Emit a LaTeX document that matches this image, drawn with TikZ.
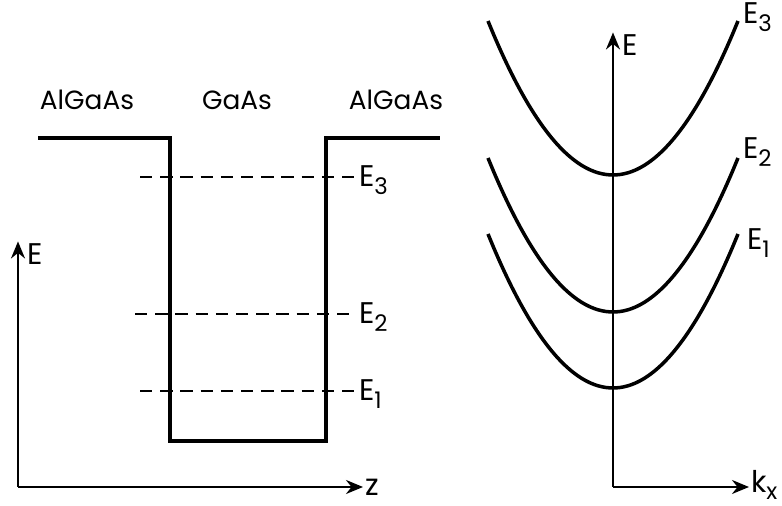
\documentclass[tikz,border=0pt]{standalone}
\usepackage{fontspec}
\setmainfont{Poppins}
\usetikzlibrary{arrows.meta, positioning, calc}

\newcommand{\lvl}[2]{#1\raisebox{-0.45ex}{\fontsize{13}{14}\selectfont #2}}

\begin{document}
\begin{tikzpicture}[
    x=0.02cm, y=-0.02cm,
    font=\fontsize{15}{17}\selectfont,
    well/.style={line width=2pt, line join=miter},
    level/.style={line width=1.4pt, dash pattern=on 7pt off 4.5pt},
    axis/.style={line width=1.3pt, -{Stealth[length=3.4mm, width=2.8mm]}},
    band/.style={line width=2pt},
    lbl/.style={inner sep=1pt, anchor=west, font=\fontsize{17}{19}\selectfont},
  ]
    \useasboundingbox (0,0) rectangle (782,506);

    % quantum well
    \node (lb) at (87,100)  {AlGaAs};
    \node (gw) at (237,100) {GaAs};
    \node (rb) at (396,100) {AlGaAs};
    \coordinate (w1) at (38,138);
    \coordinate (w2) at (170,138);
    \coordinate (w3) at (170,441);
    \coordinate (w4) at (326,441);
    \coordinate (w5) at (326,138);
    \coordinate (w6) at (440,138);
    \draw[well] (w1) -- (w2) -- (w3) -- (w4) -- (w5) -- (w6);

    \node[lbl] (e3) at (357,180) {\lvl{E}{3}};
    \node[lbl] (e2) at (357,317) {\lvl{E}{2}};
    \node[lbl] (e1) at (357,394) {\lvl{E}{1}};
    \coordinate (d3) at (140,177);
    \coordinate (d2) at (135,314);
    \coordinate (d1) at (140,391);
    \draw[level] (d3) -- (d3 -| e3.west);
    \draw[level] (d2) -- (d2 -| e2.west);
    \draw[level] (d1) -- (d1 -| e1.west);

    \coordinate (o1) at (18,487);
    \node[lbl] (ez) at (25,254) {E};
    \node[lbl] (zz) at (363,487) {z};
    \draw[axis] (o1) -- (o1 |- ez.north);
    \draw[axis] (o1) -- (zz.west);

    % subbands
    \coordinate (o2) at (613,487);
    \node[lbl] (ek) at (620,45) {E};
    \node[lbl] (kx) at (749,485) {\lvl{k}{x}};
    \draw[axis] (o2) -- (o2 |- ek.north);
    \draw[axis] (o2) -- (kx.west |- o2);

    \foreach \ymin in {175, 312, 388}
      \draw[band] plot[domain=-125:125, samples=60, smooth]
        ({613+\x}, {\ymin-0.00985*\x*\x});
    \node[lbl] (b3) at (741,17)  {\lvl{E}{3}};
    \node[lbl] (b2) at (741,152) {\lvl{E}{2}};
    \node[lbl] (b1) at (745,243) {\lvl{E}{1}};
  \end{tikzpicture}
\end{document}
